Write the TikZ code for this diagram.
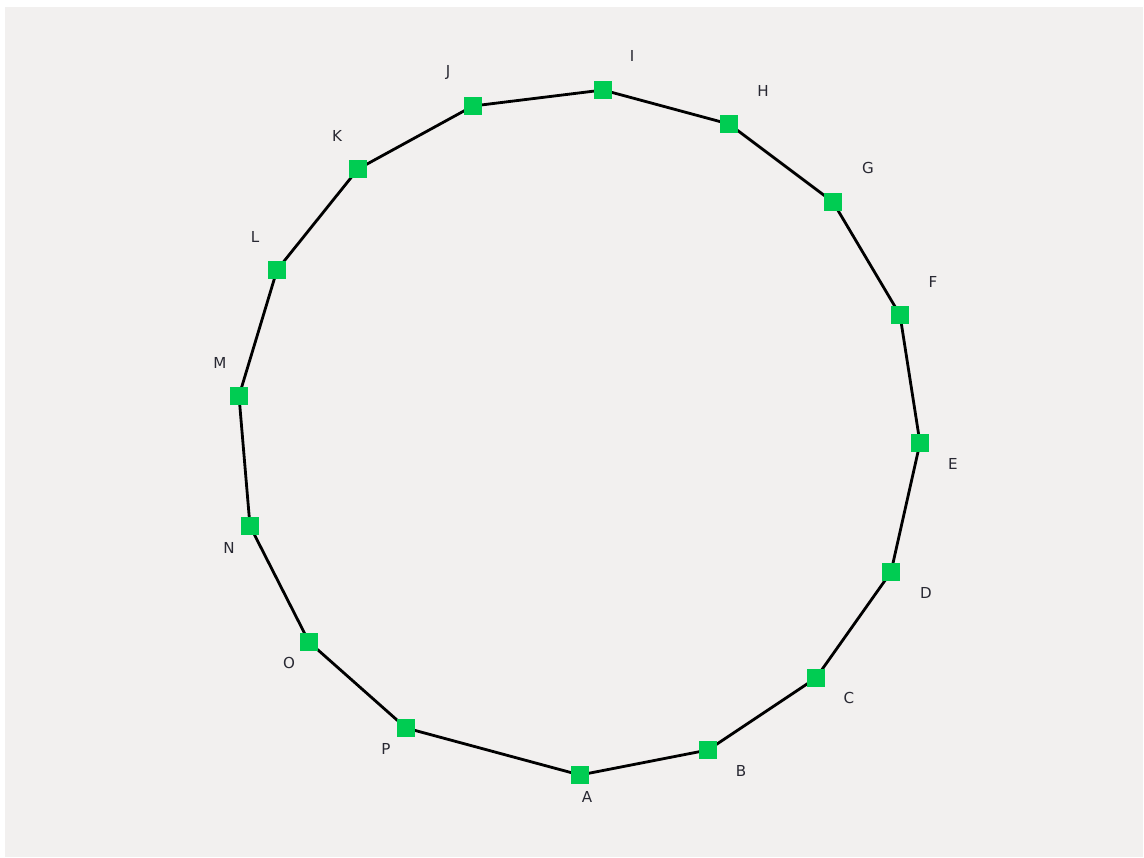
\documentclass[tikz,border=0pt]{standalone}
\usepackage{fontspec}
\setmainfont{DejaVu Sans}
\usepackage{tikz}
\usetikzlibrary{positioning}
\definecolor{bggray}{RGB}{242,240,239}
\definecolor{ringgreen}{RGB}{0,204,82}
\definecolor{txtdark}{RGB}{40,40,50}
\tikzset{
  station/.style={rectangle, fill=ringgreen, inner sep=0pt,
    minimum size=0.35cm},
  lbl/.style={font=\fontsize{8.6}{10}\selectfont, text=txtdark, inner sep=0pt},
  ring/.style={line width=1.6pt, color=black, line join=round}
}

\begin{document}
\begin{tikzpicture}[x=0.02cm, y=-0.02cm]
  % Frame and background
  \useasboundingbox (0,0) rectangle (1144,858);
  \fill[bggray] (5,7) rectangle (1143,857);

  % Stations
  \coordinate (A) at (580,775);
  \coordinate (B) at (708,750);
  \coordinate (C) at (816,678);
  \coordinate (D) at (891,572);
  \coordinate (E) at (920,443);
  \coordinate (F) at (900,315);
  \coordinate (G) at (833,202);
  \coordinate (H) at (729,124);
  \coordinate (I) at (603,90);
  \coordinate (J) at (473,106);
  \coordinate (K) at (358,169);
  \coordinate (L) at (277,270);
  \coordinate (M) at (239,396);
  \coordinate (N) at (250,526);
  \coordinate (O) at (309,642);
  \coordinate (P) at (406,728);

  % Ring
  \draw[ring] (A) -- (B) -- (C) -- (D) -- (E) -- (F) -- (G) -- (H)
    -- (I) -- (J) -- (K) -- (L) -- (M) -- (N) -- (O) -- (P) -- cycle;

  % Squares on top
  \node[station] (sA) at (A) {};
  \node[station] (sB) at (B) {};
  \node[station] (sC) at (C) {};
  \node[station] (sD) at (D) {};
  \node[station] (sE) at (E) {};
  \node[station] (sF) at (F) {};
  \node[station] (sG) at (G) {};
  \node[station] (sH) at (H) {};
  \node[station] (sI) at (I) {};
  \node[station] (sJ) at (J) {};
  \node[station] (sK) at (K) {};
  \node[station] (sL) at (L) {};
  \node[station] (sM) at (M) {};
  \node[station] (sN) at (N) {};
  \node[station] (sO) at (O) {};
  \node[station] (sP) at (P) {};

  % Labels
  \node[lbl] (lA) at (587,797) {A};
  \node[lbl] (lB) at (741,771) {B};
  \node[lbl] (lC) at (849,698) {C};
  \node[lbl] (lD) at (926,593) {D};
  \node[lbl] (lE) at (953,464) {E};
  \node[lbl] (lF) at (933,282) {F};
  \node[lbl] (lG) at (868,168) {G};
  \node[lbl] (lH) at (763,91) {H};
  \node[lbl] (lI) at (632,56) {I};
  \node[lbl] (lJ) at (448,73) {J};
  \node[lbl] (lK) at (337,136) {K};
  \node[lbl] (lL) at (255,237) {L};
  \node[lbl] (lM) at (220,363) {M};
  \node[lbl] (lN) at (229,548) {N};
  \node[lbl] (lO) at (289,663) {O};
  \node[lbl] (lP) at (386,749) {P};
\end{tikzpicture}
\end{document}
